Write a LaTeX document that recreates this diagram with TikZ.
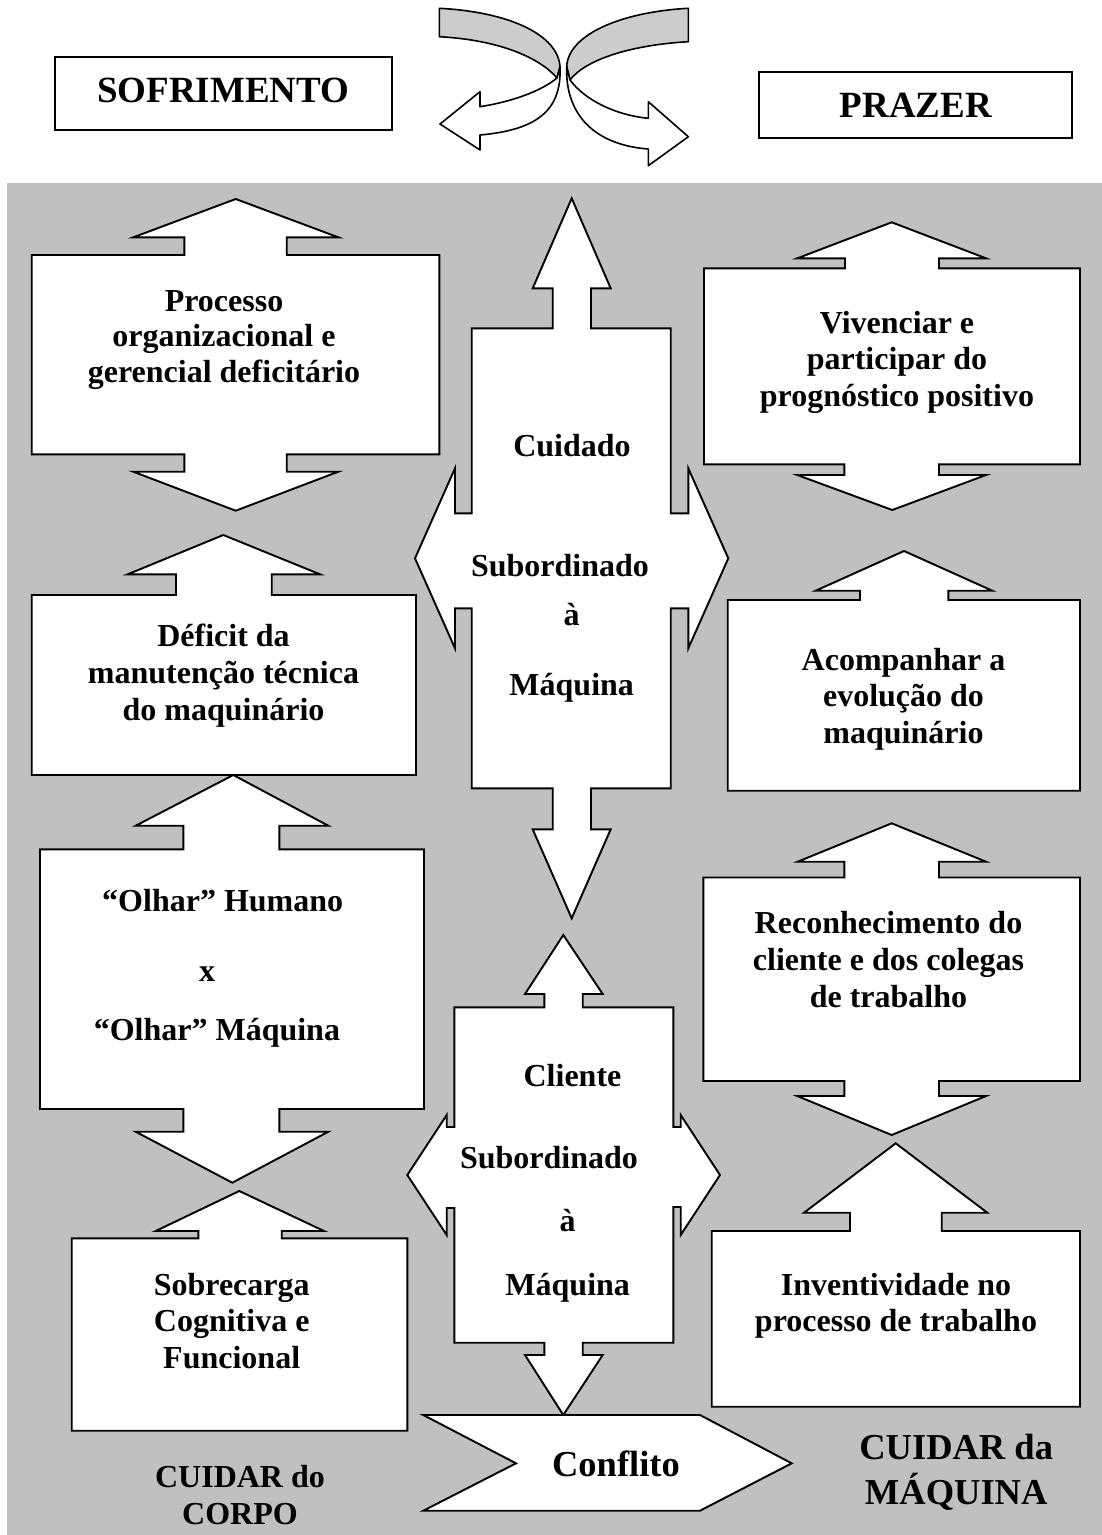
\documentclass[tikz,border=0pt]{standalone}
\usepackage{fontspec}
\setmainfont{Liberation Serif}
\definecolor{bgc}{RGB}{192,192,192}
\definecolor{ribc}{RGB}{204,204,204}
\begin{document}
\begin{tikzpicture}[x=1pt,y=-1pt,
  shp/.style={draw=black,fill=white,line width=1.9pt,line join=miter},
  rib/.style={draw=black,line width=1.6pt,line join=round},
  tx/.style={font=\bfseries\fontsize{32}{36}\selectfont,anchor=base,inner sep=0pt},
  tl/.style={font=\bfseries\fontsize{37}{42}\selectfont,anchor=base,inner sep=0pt},
  tm/.style={font=\bfseries\fontsize{36.5}{42}\selectfont,anchor=base,inner sep=0pt}]
\useasboundingbox (0,0) rectangle (1102,1535);
\fill[white] (0,0) rectangle (1102,1535);
% gray panel
\fill[bgc] (7,183) rectangle (1102,1535);

% top boxes
\draw[line width=2pt] (55,56.7) rectangle (392.3,130);
\node[tl] (sof) at (223.3,102.3) {SOFRIMENTO};
\draw[line width=2pt] (759.3,72.3) rectangle (1072.3,137.7);
\node[tl] (pra) at (915.8,117.3) {PRAZER};

% left ribbon
\filldraw[rib,fill=ribc] (439.3,8.3) .. controls (510,12) and (558,35) .. (560,66.7)
  -- (557,78) .. controls (540,58) and (500,40) .. (439.3,36.7) -- cycle;
\filldraw[rib,fill=white] (560,66.7) .. controls (562,112) and (535,130) .. (480,135)
  -- (480,150) -- (440,124) -- (480,91.7) -- (480,106.7)
  .. controls (510,102) and (540,92) .. (557,78) -- cycle;
% right ribbon
\filldraw[rib,fill=ribc] (688.3,8.3) .. controls (620,12) and (568,35) .. (566.7,66.7)
  -- (570,80) .. controls (585,60) and (630,45) .. (688.3,41.7) -- cycle;
\filldraw[rib,fill=white] (566.7,66.7) .. controls (565,115) and (595,145) .. (648.3,149)
  -- (648.3,165.7) -- (688.3,136.7) -- (648.3,101.7) -- (648.3,118.3)
  .. controls (615,115) and (585,100) .. (570,80) -- cycle;

% left column
\draw[shp] (235.7,199) -- (338.3,237.3) -- (286.7,237.3) -- (286.7,255) -- (439.3,255)
  -- (439.3,454.3) -- (286.7,454.3) -- (286.7,471.7) -- (338.3,471.7) -- (235.7,510.7)
  -- (133.3,471.7) -- (184.3,471.7) -- (184.3,454.3) -- (31.7,454.3) -- (31.7,255)
  -- (184.3,255) -- (184.3,237.3) -- (133.3,237.3) -- cycle;
\draw[shp] (223.3,535) -- (320,574.3) -- (271.7,574.3) -- (271.7,595) -- (416,595)
  -- (416,775) -- (31.7,775) -- (31.7,595) -- (176,595) -- (176,574.3) -- (127.7,574.3) -- cycle;
\draw[shp] (233.3,775) -- (328.3,825.7) -- (279.3,825.7) -- (279.3,849.3) -- (424,849.3)
  -- (424,1109) -- (279.3,1109) -- (279.3,1131.7) -- (328.3,1131.7) -- (232.3,1182.7)
  -- (135.7,1131.7) -- (183.3,1131.7) -- (183.3,1109) -- (40,1109) -- (40,849.3)
  -- (183.3,849.3) -- (183.3,825.7) -- (135.7,825.7) -- cycle;
\draw[shp] (239.3,1191) -- (324,1231) -- (281.7,1231) -- (281.7,1238.3) -- (407.3,1238.3)
  -- (407.3,1430.7) -- (71.7,1430.7) -- (71.7,1238.3) -- (198.3,1238.3) -- (198.3,1231)
  -- (155.7,1231) -- cycle;

% right column
\draw[shp] (891.7,222.3) -- (986,258.3) -- (939,258.3) -- (939,268.3) -- (1080,268.3)
  -- (1080,464.3) -- (939,464.3) -- (939,475) -- (986,475) -- (892.3,510)
  -- (797.3,475) -- (844.3,475) -- (844.3,464.3) -- (704,464.3) -- (704,268.3)
  -- (845,268.3) -- (845,258.3) -- (797.3,258.3) -- cycle;
\draw[shp] (904,551) -- (992.3,590.7) -- (948.3,590.7) -- (948.3,600) -- (1080,600)
  -- (1080,790.7) -- (727.7,790.7) -- (727.7,600) -- (860,600) -- (860,590.7) -- (815.7,590.7) -- cycle;
\draw[shp] (891.7,823.3) -- (986,861.7) -- (939,861.7) -- (939,877.5) -- (1080,877.5)
  -- (1080,1081) -- (939,1081) -- (939,1096) -- (986,1096) -- (891.7,1135)
  -- (797.3,1096) -- (844.3,1096) -- (844.3,1081) -- (703.3,1081) -- (703.3,877.5)
  -- (844.3,877.5) -- (844.3,861.7) -- (797.7,861.7) -- cycle;
\draw[shp] (895.7,1143.3) -- (987.3,1212.7) -- (941.7,1212.7) -- (941.7,1231) -- (1080,1231)
  -- (1080,1406.7) -- (711.7,1406.7) -- (711.7,1231) -- (850,1231) -- (850,1212.7)
  -- (804,1212.7) -- cycle;

% upper cross
\draw[shp] (571.7,198.3) -- (610.7,288.3) -- (591,288.3) -- (591,328.3) -- (670.7,328.3)
  -- (670.7,513.3) -- (688.3,513.3) -- (688.3,468.3) -- (728.3,558.3) -- (688.3,648.3)
  -- (688.3,608.3) -- (670.7,608.3) -- (670.7,788.3) -- (591,788.3) -- (591,829.3)
  -- (610.7,829.3) -- (571.7,918.3) -- (532.7,829.3) -- (552.7,829.3) -- (552.7,788.3)
  -- (471.7,788.3) -- (471.7,608.3) -- (455,608.3) -- (455,648.3) -- (415,558.3)
  -- (455,468.3) -- (455,513.3) -- (471.7,513.3) -- (471.7,328.3) -- (552.7,328.3)
  -- (552.7,288.3) -- (532.7,288.3) -- cycle;

% lower cross
\draw[shp] (563.3,935) -- (602.7,994) -- (582.7,994) -- (582.7,1007.3) -- (673.3,1007.3)
  -- (673.3,1127) -- (680.7,1127) -- (680.7,1115) -- (720,1175) -- (680.7,1235)
  -- (680.7,1207) -- (673.3,1207) -- (673.3,1342.7) -- (582.7,1342.7) -- (582.7,1355)
  -- (602.7,1355) -- (563.3,1415) -- (525,1355) -- (544.3,1355) -- (544.3,1342.7)
  -- (454.3,1342.7) -- (454.3,1208) -- (446.7,1208) -- (446.7,1235) -- (407.3,1175)
  -- (446.7,1115) -- (446.7,1127) -- (454.3,1127) -- (454.3,1007.3) -- (544.3,1007.3)
  -- (544.3,994) -- (525,994) -- cycle;

% conflito chevron
\draw[shp] (423.3,1415) -- (700,1415) -- (791.7,1463.3) -- (700,1510.7) -- (423.3,1510.7)
  -- (516,1463.3) -- cycle;

% texts left
\node[tx] (p1) at (224,311.7) {Processo};
\node[tx] (p2) at (224,346.7) {organizacional e};
\node[tx] (p3) at (224,382.5) {gerencial deficitário};
\node[tx] (d1) at (223.5,646.7) {Déficit da};
\node[tx] (d2) at (223.5,683.3) {manutenção técnica};
\node[tx] (d3) at (223.5,720) {do maquinário};
\node[tx] (o1) at (222.7,911.7) {“Olhar” Humano};
\node[tx] (o2) at (207,981.7) {x};
\node[tx] (o3) at (216.9,1040) {“Olhar” Máquina};
\node[tx] (s1) at (231.7,1295) {Sobrecarga};
\node[tx] (s2) at (231.7,1331.7) {Cognitiva e};
\node[tx] (s3) at (231.7,1368.3) {Funcional};
\node[tx] (c1) at (240,1487.7) {CUIDAR do};
\node[tx] (c2) at (240,1524) {CORPO};

% texts right
\node[tx] (v1) at (897,333.3) {Vivenciar e};
\node[tx] (v2) at (897,369.8) {participar do};
\node[tx] (v3) at (897,406.3) {prognóstico positivo};
\node[tx] (a1) at (903.5,670) {Acompanhar a};
\node[tx] (a2) at (903.5,706.7) {evolução do};
\node[tx] (a3) at (903.5,743.3) {maquinário};
\node[tx] (r1) at (888.5,933.3) {Reconhecimento do};
\node[tx] (r2) at (888.5,970) {cliente e dos colegas};
\node[tx] (r3) at (888.5,1007.3) {de trabalho};
\node[tx] (i1) at (896,1295) {Inventividade no};
\node[tx] (i2) at (896,1331.7) {processo de trabalho};
\node[tm] (m1) at (956.2,1459) {CUIDAR da};
\node[tm] (m2) at (956.2,1504.3) {MÁQUINA};

% texts center
\node[tx] (u1) at (572,456) {Cuidado};
\node[tx] (u2) at (560,576) {Subordinado};
\node[tx] (u3) at (571.7,625) {à};
\node[tx] (u4) at (571.7,695) {Máquina};
\node[tx] (l1) at (572.5,1086.7) {Cliente};
\node[tx] (l2) at (549,1168.3) {Subordinado};
\node[tx] (l3) at (567.5,1231.7) {à};
\node[tx] (l4) at (567.7,1295) {Máquina};
\node[tm] (cf) at (616,1476.7) {Conflito};
\end{tikzpicture}
\end{document}
